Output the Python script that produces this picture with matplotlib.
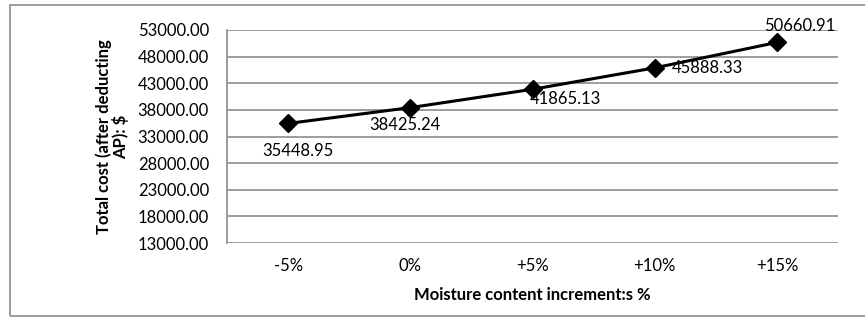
import matplotlib.pyplot as plt
from matplotlib.patches import Rectangle

categories = ['-5%', '0%', '+5%', '+10%', '+15%']
total_cost = [35448.95, 38425.24, 41865.13, 45888.33, 50660.91]
y_ticks = [13000, 18000, 23000, 28000, 33000, 38000, 43000, 48000, 53000]

# label offsets in points (dx, dy) and alignment, roughly like Excel placed them
label_pos = [(7, -14, 'center', 'top'),
             (-4, -7, 'center', 'top'),
             (-2, -1, 'left', 'top'),
             (12, 0, 'left', 'center'),
             (-9, 6, 'left', 'bottom')]

plt.rcParams['font.family'] = ['Lato', 'DejaVu Sans']
fs = 12

W, H = 865, 318
fig = plt.figure(figsize=(W / 100, H / 100), dpi=100)
ax = fig.add_axes([227 / W, 1 - 243 / H, (838 - 227) / W, (243 - 30) / H])

# outer chart border
fig.patches.append(Rectangle((10 / W, 2 / H), 1.0, 1 - 7 / H, transform=fig.transFigure,
                             fill=False, edgecolor='#8c8c8c', linewidth=1.2))

x = [i + 0.5 for i in range(len(categories))]
ax.plot(x, total_cost, color='black', linewidth=2.2, marker='D', markersize=9.5,
        markerfacecolor='black', zorder=3)

for xi, yi, (dx, dy, ha, va) in zip(x, total_cost, label_pos):
    ax.annotate(f'{yi:.2f}', (xi, yi), xytext=(dx, dy), textcoords='offset points',
                ha=ha, va=va, fontsize=fs)

ax.set_xlim(0, 5)
ax.set_ylim(13000, 53000)
ax.set_xticks(x)
ax.set_xticklabels(categories, fontsize=fs)
ax.set_yticks(y_ticks)
ax.set_yticklabels([f'{t:.2f}' for t in y_ticks], fontsize=fs)
ax.tick_params(length=0)
ax.tick_params(axis='y', pad=13)
ax.tick_params(axis='x', pad=11)
ax.grid(axis='y', color='#8c8c8c', linewidth=1.2)
ax.set_axisbelow(True)
for s in ['top', 'right', 'bottom']:
    ax.spines[s].set_visible(False)
ax.spines['left'].set_color('#8c8c8c')
ax.spines['left'].set_linewidth(1.2)

ax.set_xlabel('Moisture content increment:s %', fontsize=fs, fontweight='bold', labelpad=9)
ax.set_ylabel('Total cost (after deducting\nAP): $', fontsize=fs, fontweight='bold',
              labelpad=6, linespacing=1.0)

fig.savefig('out.png', dpi=100)
